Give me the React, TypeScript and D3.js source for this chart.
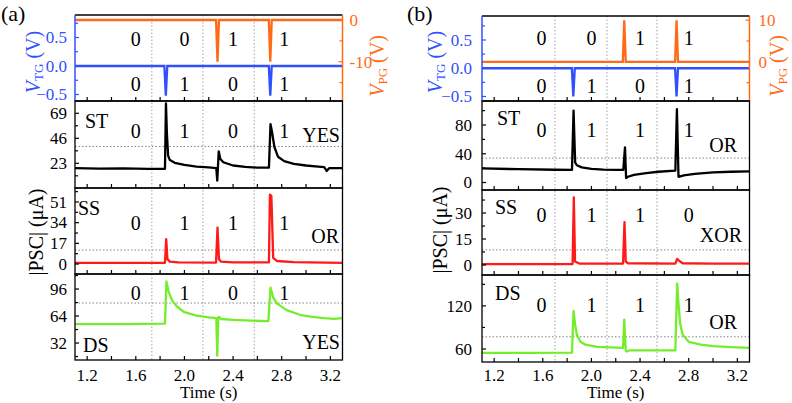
import React from "react";
import * as d3 from "d3";

type Pt = [number, number];

// shared time axis
const timeDomain: [number, number] = [1.1, 3.3];
const xTicks = [1.2, 1.4, 1.6, 1.8, 2.0, 2.2, 2.4, 2.6, 2.8, 3.0, 3.2];
const xTickLabels = [1.2, 1.6, 2.0, 2.4, 2.8, 3.2];

// (a) gate pulses
const vtgA: Pt[] = [[1.1, 0], [1.835, 0], [1.847, -0.52], [1.859, 0], [2.694, 0], [2.706, -0.52], [2.718, 0], [3.3, 0]];
const vpgA: Pt[] = [[1.1, 0], [2.26, 0], [2.272, -10], [2.284, 0], [2.694, 0], [2.706, -10], [2.718, 0], [3.3, 0]];
// (a) currents
const stA: Pt[] = [[1.1, 18.5], [1.3, 18.2], [1.5, 18.4], [1.7, 17.8], [1.84, 18], [1.848, 78], [1.856, 50], [1.866, 30], [1.88, 26], [1.92, 23.5], [2.0, 21.5], [2.1, 20], [2.2, 19.2], [2.262, 18.5], [2.27, 7], [2.282, 34], [2.295, 27], [2.32, 24], [2.4, 21], [2.5, 19.8], [2.6, 19], [2.695, 19], [2.708, 59], [2.72, 52], [2.74, 38], [2.77, 29], [2.82, 25], [2.9, 22.5], [3.0, 21], [3.1, 20], [3.15, 19.5], [3.17, 16], [3.19, 18.5], [3.3, 18.5]];
const ssA: Pt[] = [[1.1, 1], [1.5, 1], [1.84, 1], [1.85, 20.5], [1.86, 4], [1.88, 2], [1.95, 1.3], [2.26, 1.2], [2.272, 30], [2.284, 4], [2.3, 2], [2.4, 1.3], [2.695, 1.3], [2.703, 57], [2.715, 56], [2.73, 5], [2.76, 2.5], [2.9, 1.5], [3.3, 1]];
const dsA: Pt[] = [[1.1, 54.5], [1.5, 54.5], [1.84, 55], [1.852, 105], [1.87, 93], [1.9, 82], [1.94, 75], [2.0, 68.5], [2.1, 64.5], [2.2, 62.5], [2.262, 61.5], [2.27, 17], [2.278, 62], [2.285, 63], [2.3, 60.5], [2.4, 59.5], [2.55, 58.5], [2.69, 58], [2.708, 97.5], [2.73, 86], [2.76, 79], [2.84, 71], [2.95, 65.5], [3.05, 63], [3.15, 61.5], [3.23, 60.6], [3.3, 61.5]];

// (b) gate pulses
const vtgB: Pt[] = [[1.1, 0], [1.839, 0], [1.851, -0.5], [1.863, 0], [2.688, 0], [2.7, -0.5], [2.712, 0], [3.3, 0]];
const vpgB: Pt[] = [[1.1, 0], [2.258, 0], [2.27, 10], [2.282, 0], [2.688, 0], [2.7, 10], [2.712, 0], [3.3, 0]];
// (b) currents
const stB: Pt[] = [[1.1, 19.7], [1.4, 18.5], [1.7, 17.8], [1.84, 17.5], [1.853, 100], [1.866, 28], [1.88, 24], [1.92, 21], [2.0, 19], [2.1, 18], [2.2, 17.5], [2.262, 17.5], [2.276, 49], [2.285, 6.3], [2.3, 8], [2.35, 10.5], [2.45, 13], [2.55, 15], [2.69, 16.5], [2.703, 102], [2.716, 8], [2.76, 10], [2.85, 12], [3.0, 14], [3.15, 15], [3.3, 15.5]];
const ssB: Pt[] = [[1.1, 0.5], [1.5, 0.5], [1.845, 0.5], [1.855, 39], [1.865, 2], [1.9, 0.8], [2.26, 0.8], [2.272, 24.8], [2.282, 2], [2.3, 1], [2.69, 0.8], [2.705, 3.5], [2.72, 2.5], [2.75, 1], [3.0, 0.8], [3.3, 0.8]];
const dsB: Pt[] = [[1.1, 54.5], [1.5, 54.5], [1.84, 55], [1.853, 113], [1.865, 95], [1.88, 80], [1.91, 70], [1.95, 66], [2.05, 63], [2.26, 61.5], [2.27, 101], [2.282, 58], [2.29, 56.5], [2.31, 58], [2.4, 58], [2.55, 58], [2.69, 58], [2.705, 151], [2.715, 125], [2.73, 95], [2.75, 80], [2.8, 70], [2.9, 66], [3.0, 64], [3.15, 62.5], [3.3, 61.5]];

// thresholds (dotted horizontals) and input boundaries (dotted verticals)
const thresholdsA = [38.5, 11.5, 79.4];
const thresholdsB = [34, 8.7, 77];
const boundsA = [1.732, 2.152, 2.574];
const boundsB = [1.7, 2.128, 2.539];

// logic labels
const pgBitsA = ["0", "0", "1", "1"];
const tgBitsA = ["0", "1", "0", "1"];
const stBitsA = ["0", "1", "0", "1"];
const ssBitsA = ["0", "1", "1", "1"];
const dsBitsA = ["0", "1", "0", "1"];
const pgBitsB = ["0", "0", "1", "1"];
const tgBitsB = ["0", "1", "0", "1"];
const stBitsB = ["0", "1", "1", "1"];
const ssBitsB = ["0", "1", "1", "0"];
const dsBitsB = ["0", "1", "1", "1"];
const gatesA = ["YES", "OR", "YES"];
const gatesB = ["OR", "XOR", "OR"];

const FONT = "'Liberation Serif', 'Times New Roman', serif";
const BLUE = "#3050ff";
const ORANGE = "#ff6a16";
const RED = "#ff1a1a";
const GREEN = "#74ee2c";

const fmt1 = d3.format(".1f");

const Figure = ({ c }: { c: any }) => {
  const x = d3.scaleLinear().domain(timeDomain).range(c.xRange);
  const [x0, x1] = c.xRange;
  const top = c.rows[0][0];
  const bottom = c.rows[3][1];
  const yTg = d3.scaleLinear().domain(c.tgDomain).range([c.rows[0][1], c.rows[0][0]]);
  const yPg = d3.scaleLinear().domain(c.pgDomain).range([c.rows[0][1], c.rows[0][0]]);
  const line = (ys: any) => d3.line<Pt>().x((d) => x(d[0])).y((d) => ys(d[1]));

  const panels = c.panels.map((p: any, i: number) => ({
    ...p,
    y: d3.scaleLinear().domain(p.domain).range([c.rows[i + 1][1], c.rows[i + 1][0]]),
    r: c.rows[i + 1],
  }));

  const xTickMarks = (yb: number, key: string) =>
    xTicks.map((t) => (
      <line key={key + t} x1={x(t)} x2={x(t)} y1={yb} y2={yb - 4} stroke="#000" strokeWidth={1.2} />
    ));

  return (
    <g fontFamily={FONT}>
      <text x={c.tagX} y={21} fontSize={22}>{c.tag}</text>

      {/* dotted verticals */}
      {c.bounds.map((t: number) => (
        <line key={"b" + t} x1={x(t)} x2={x(t)} y1={top} y2={bottom} stroke="#999" strokeWidth={0.9} strokeDasharray="1.5,2" />
      ))}

      {/* top panel: gate voltages */}
      <path d={line(yPg)(c.pg) || ""} fill="none" stroke={ORANGE} strokeWidth={2.3} />
      <path d={line(yTg)(c.tg) || ""} fill="none" stroke={BLUE} strokeWidth={2.3} />
      <line x1={x0} x2={x1} y1={c.rows[0][0]} y2={c.rows[0][0]} stroke="#000" strokeWidth={1.3} />
      <line x1={x0} x2={x1} y1={c.rows[0][1]} y2={c.rows[0][1]} stroke="#000" strokeWidth={1.3} />
      <line x1={x0} x2={x0} y1={c.rows[0][0]} y2={c.rows[0][1]} stroke={BLUE} strokeWidth={1.5} />
      <line x1={x1} x2={x1} y1={c.rows[0][0]} y2={c.rows[0][1]} stroke={ORANGE} strokeWidth={1.5} />
      {xTickMarks(c.rows[0][1], "t0")}
      {c.tgTicks.map((v: number) => (
        <g key={"tg" + v}>
          <line x1={x0} x2={x0 + 4} y1={yTg(v)} y2={yTg(v)} stroke={BLUE} strokeWidth={1.2} />
          <text x={x0 - c.labelGap} y={yTg(v)} dy="0.34em" textAnchor="end" fontSize={17} fill={BLUE}>{fmt1(v)}</text>
        </g>
      ))}
      {c.tgMinor.map((v: number) => (
        <line key={"tgm" + v} x1={x0} x2={x0 + 3} y1={yTg(v)} y2={yTg(v)} stroke={BLUE} strokeWidth={1.2} />
      ))}
      {c.pgTicks.map((v: number) => (
        <g key={"pg" + v}>
          <line x1={x1} x2={x1 - 4} y1={yPg(v)} y2={yPg(v)} stroke={ORANGE} strokeWidth={1.2} />
          <text x={x1 + c.rightGap} y={yPg(v)} dy="0.34em" fontSize={17} fill={ORANGE}>{v}</text>
        </g>
      ))}
      {c.pgMinor.map((v: number) => (
        <line key={"pgm" + v} x1={x1} x2={x1 - 3} y1={yPg(v)} y2={yPg(v)} stroke={ORANGE} strokeWidth={1.2} />
      ))}
      {c.pgBits.map((s: string, i: number) => (
        <text key={"pb" + i} x={x(c.bitT[i])} y={c.pgBitY} textAnchor="middle" fontSize={20}>{s}</text>
      ))}
      {c.tgBits.map((s: string, i: number) => (
        <text key={"tb" + i} x={x(c.bitT[i])} y={c.tgBitY} textAnchor="middle" fontSize={20}>{s}</text>
      ))}
      <text transform={`translate(${c.tgLabelX},${c.tgLabelY}) rotate(-90)`} textAnchor="middle" fontSize={20} fill={BLUE}>
        <tspan fontStyle="italic">V</tspan>
        <tspan fontSize={13} dy={3}>TG</tspan>
        <tspan dy={-3}> (V)</tspan>
      </text>
      <text transform={`translate(${c.pgLabelX},${c.pgLabelY}) rotate(-90)`} textAnchor="middle" fontSize={20} fill={ORANGE}>
        <tspan fontStyle="italic">V</tspan>
        <tspan fontSize={13} dy={3}>PG</tspan>
        <tspan dy={-3}> (V)</tspan>
      </text>

      {/* current panels */}
      {panels.map((p: any, i: number) => (
        <g key={"p" + i}>
          <line x1={x0} x2={x1} y1={p.y(p.threshold)} y2={p.y(p.threshold)} stroke="#777" strokeWidth={0.9} strokeDasharray="1.5,2" />
          <path d={line(p.y)(p.data) || ""} fill="none" stroke={p.color} strokeWidth={2.3} strokeLinejoin="round" />
          <rect x={x0} y={p.r[0]} width={x1 - x0} height={p.r[1] - p.r[0]} fill="none" stroke="#000" strokeWidth={1.3} />
          {xTickMarks(p.r[1], "t" + i)}
          {p.ticks.map((v: number) => (
            <g key={"yt" + v}>
              <line x1={x0} x2={x0 + 4} y1={p.y(v)} y2={p.y(v)} stroke="#000" strokeWidth={1.2} />
              <text x={x0 - c.labelGap} y={p.y(v)} dy="0.34em" textAnchor="end" fontSize={17}>{v}</text>
            </g>
          ))}
          {p.minor.map((v: number) => (
            <line key={"ym" + v} x1={x0} x2={x0 + 3} y1={p.y(v)} y2={p.y(v)} stroke="#000" strokeWidth={1.2} />
          ))}
          <text x={p.nameX} y={p.nameY} fontSize={20}>{p.name}</text>
          {p.bits.map((s: string, j: number) => (
            <text key={"bt" + j} x={x(c.bitT[j])} y={p.bitY} textAnchor="middle" fontSize={20}>{s}</text>
          ))}
          <text x={p.gateX} y={p.gateY} textAnchor="end" fontSize={20}>{p.gate}</text>
        </g>
      ))}

      {xTickLabels.map((t) => (
        <text key={"xl" + t} x={x(t)} y={c.xLabelY} textAnchor="middle" fontSize={17}>{fmt1(t)}</text>
      ))}
      <text x={(x0 + x1) / 2} y={c.timeY} textAnchor="middle" fontSize={17}>Time (s)</text>
      <text transform={`translate(${c.pscLabelX},${c.pscLabelY}) rotate(-90)`} textAnchor="middle" fontSize={20}>|PSC| (μA)</text>
    </g>
  );
};

const figA = {
  tag: "(a)", tagX: 1,
  xRange: [75, 342.5],
  rows: [[15, 101], [101, 188], [188, 274], [274, 360]],
  tgDomain: [-0.614, 0.895], pgDomain: [-19.4, 1.2],
  tgTicks: [-0.5, 0, 0.5], tgMinor: [-0.25, 0.25, 0.75],
  pgTicks: [-10, 0], pgMinor: [-15, -5],
  tg: vtgA, pg: vpgA, bounds: boundsA,
  pgBits: pgBitsA, tgBits: tgBitsA, bitT: [1.6, 2.0, 2.4, 2.82],
  pgBitY: 46, tgBitY: 91,
  labelGap: 8, rightGap: 7,
  tgLabelX: 40, tgLabelY: 62, pgLabelX: 384, pgLabelY: 66,
  pscLabelX: 43, pscLabelY: 232,
  xLabelY: 381, timeY: 398,
  panels: [
    { data: stA, color: "#000", domain: [0.3, 80.3], ticks: [23, 46, 69], minor: [11.5, 34.5, 57.5], threshold: thresholdsA[0], name: "ST", nameX: 85, nameY: 128, bits: stBitsA, bitY: 138, gate: gatesA[0], gateX: 340, gateY: 142 },
    { data: ssA, color: RED, domain: [-8.2, 62.5], ticks: [0, 17, 34, 51], minor: [8.5, 25.5, 42.5, 59.5], threshold: thresholdsA[1], name: "SS", nameX: 78, nameY: 215, bits: ssBitsA, bitY: 230, gate: gatesA[1], gateX: 339, gateY: 243 },
    { data: dsA, color: GREEN, domain: [11.9, 113.8], ticks: [32, 64, 96], minor: [16, 48, 80, 112], threshold: thresholdsA[2], name: "DS", nameX: 83, nameY: 352, bits: dsBitsA, bitY: 300, gate: gatesA[2], gateX: 340, gateY: 349 },
  ],
};

const figB = {
  tag: "(b)", tagX: 407,
  xRange: [482, 749.5],
  rows: [[16, 101], [101, 190], [190, 275], [275, 362]],
  tgDomain: [-0.58, 0.925], pgDomain: [-9.4, 11],
  tgTicks: [-0.5, 0, 0.5], tgMinor: [-0.25, 0.25, 0.75],
  pgTicks: [0, 10], pgMinor: [-5, 5],
  tg: vtgB, pg: vpgB, bounds: boundsB,
  pgBits: pgBitsB, tgBits: tgBitsB, bitT: [1.59, 2.0, 2.4, 2.8],
  pgBitY: 45, tgBitY: 93,
  labelGap: 10, rightGap: 9,
  tgLabelX: 442, tgLabelY: 62, pgLabelX: 784, pgLabelY: 66,
  pscLabelX: 447, pscLabelY: 230,
  xLabelY: 381, timeY: 398,
  panels: [
    { data: stB, color: "#000", domain: [-10.4, 113.4], ticks: [0, 40, 80], minor: [20, 60, 100], threshold: thresholdsB[0], name: "ST", nameX: 497, nameY: 125, bits: stBitsB, bitY: 137, gate: gatesB[0], gateX: 737, gateY: 152 },
    { data: ssB, color: RED, domain: [-5.8, 43.3], ticks: [0, 15, 30], minor: [7.5, 22.5, 37.5], threshold: thresholdsB[1], name: "SS", nameX: 495, nameY: 214, bits: ssBitsB, bitY: 222, gate: gatesB[1], gateX: 742, gateY: 242 },
    { data: dsB, color: GREEN, domain: [41.9, 163], ticks: [60, 120], minor: [90, 150], threshold: thresholdsB[2], name: "DS", nameX: 495, nameY: 300, bits: dsBitsB, bitY: 312, gate: gatesB[2], gateX: 737, gateY: 329 },
  ],
};

export default function App() {
  return (
    <svg width={792} height={403} style={{ position: "absolute", left: 0, top: 0, background: "#fff" }}>
      <rect width={792} height={403} fill="#fff" />
      <Figure c={figA} />
      <Figure c={figB} />
    </svg>
  );
}
